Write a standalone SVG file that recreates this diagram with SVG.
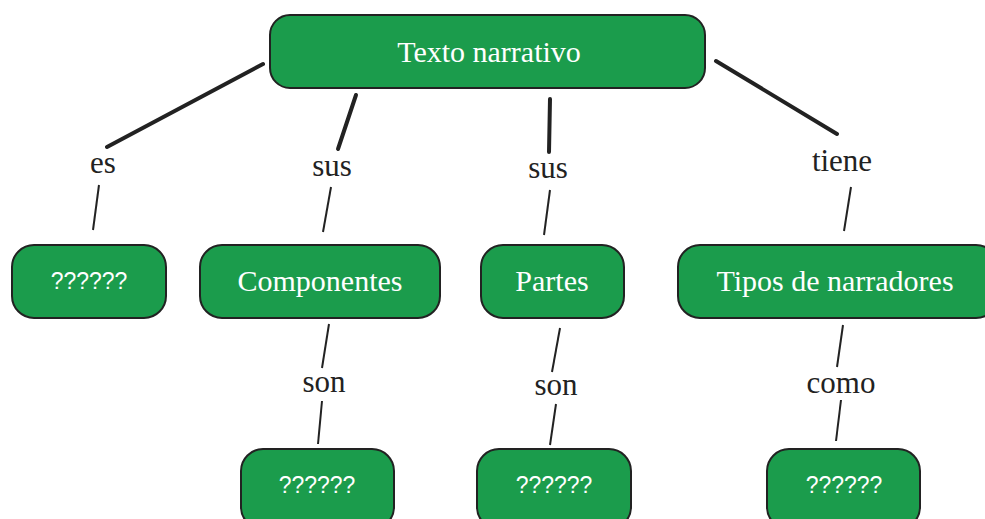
<svg xmlns="http://www.w3.org/2000/svg" width="985" height="519" viewBox="0 0 985 519">
<style>
.n{fill:#1b9c4c;stroke:#222;stroke-width:2}
.t{font-family:"Liberation Serif","DejaVu Serif",serif;font-size:30px;fill:#fff;text-anchor:middle}
.q{font-family:"Liberation Sans",Arial,sans-serif;font-size:23px;fill:#fff;text-anchor:middle}
.l{font-family:"Liberation Serif","DejaVu Serif",serif;font-size:31px;fill:#222;text-anchor:middle}
.k{stroke:#222;stroke-width:4;stroke-linecap:round;fill:none}
.s{stroke:#222;stroke-width:2;fill:none}
</style>
<rect width="985" height="519" fill="#fff"/>
<g id="connectors">
<line class="k" x1="263" y1="64" x2="107" y2="147"/>
<line class="s" x1="99" y1="185" x2="93" y2="230"/>
<line class="k" x1="356" y1="95" x2="338" y2="149"/>
<line class="s" x1="331" y1="187" x2="323" y2="232"/>
<line class="k" x1="550" y1="99" x2="549" y2="152"/>
<line class="s" x1="550" y1="190" x2="544" y2="235"/>
<line class="k" x1="716" y1="61" x2="837" y2="134"/>
<line class="s" x1="851" y1="187" x2="844" y2="231"/>
<line class="s" x1="329" y1="324" x2="322" y2="368"/>
<line class="s" x1="322" y1="401" x2="318" y2="444"/>
<line class="s" x1="560" y1="328" x2="552" y2="372"/>
<line class="s" x1="556" y1="404" x2="550" y2="445"/>
<line class="s" x1="843" y1="325" x2="837" y2="367"/>
<line class="s" x1="841" y1="400" x2="836" y2="441"/>
<text class="l" x="103" y="173">es</text>
<text class="l" x="332" y="176">sus</text>
<text class="l" x="548" y="178">sus</text>
<text class="l" x="842" y="171">tiene</text>
<text class="l" x="324" y="392">son</text>
<text class="l" x="556" y="395">son</text>
<text class="l" x="841" y="393">como</text>
</g>
<g id="n-texto"><rect class="n" x="270" y="15" width="435" height="73" rx="20"/><text class="t" x="489" y="62">Texto narrativo</text></g>
<g id="n-es"><rect class="n" x="12" y="245" width="154" height="73" rx="22"/><text class="q" x="89" y="289">??????</text></g>
<g id="n-comp"><rect class="n" x="200" y="245" width="240" height="73" rx="22"/><text class="t" x="320" y="291">Componentes</text></g>
<g id="n-partes"><rect class="n" x="481" y="245" width="143" height="73" rx="22"/><text class="t" x="552" y="291">Partes</text></g>
<g id="n-tipos"><rect class="n" x="678" y="245" width="320" height="73" rx="22"/><text class="t" x="835" y="291">Tipos de narradores</text></g>
<g id="n-comp-q"><rect class="n" x="241" y="449" width="153" height="80" rx="22"/><text class="q" x="317" y="493">??????</text></g>
<g id="n-partes-q"><rect class="n" x="477" y="449" width="154" height="80" rx="22"/><text class="q" x="554" y="493">??????</text></g>
<g id="n-tipos-q"><rect class="n" x="767" y="449" width="153" height="80" rx="22"/><text class="q" x="844" y="493">??????</text></g>
</svg>
